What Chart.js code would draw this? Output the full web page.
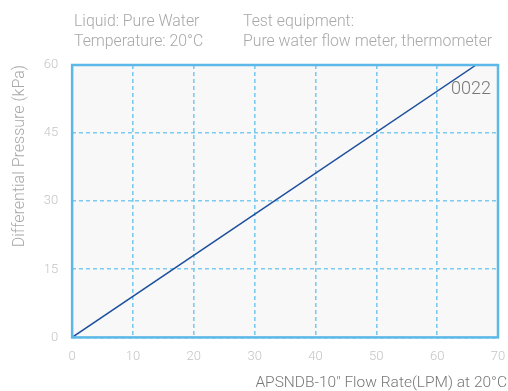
<!DOCTYPE html>
<html lang="en">
<head>
<meta charset="UTF-8">
<title>APSNDB-10 pressure drop</title>
<script src="https://cdn.jsdelivr.net/npm/chart.js"></script>
<style>
  html, body { margin: 0; padding: 0; background: #fff; }
  #wrap { width: 508px; height: 391px; position: relative; }
</style>
</head>
<body>
<div id="wrap"><canvas id="chart"></canvas></div>
<script>
    // values
    const flowRate = [0, 66.4];      // LPM
    const pressure = [0, 60];        // kPa
    const xTicks = [0, 10, 20, 30, 40, 50, 60, 70];
    const yTicks = [0, 15, 30, 45, 60];
    const seriesName = '0022';

    const FONT = 'Roboto, "Open Sans", sans-serif';

    const plotFrame = {
        id: 'plotFrame',
        beforeDraw(chart) {
            const { ctx, chartArea: a } = chart;
            ctx.save();
            ctx.fillStyle = '#f8f8f8';
            ctx.fillRect(a.left, a.top, a.right - a.left, a.bottom - a.top);
            ctx.restore();
        },
        afterDatasetsDraw(chart) {
            const { ctx, chartArea: a } = chart;
            ctx.save();
            ctx.strokeStyle = '#5cb8e6';
            ctx.lineWidth = 2.5;
            ctx.strokeRect(a.left, a.top, a.right - a.left, a.bottom - a.top);

            // header notes
            ctx.fillStyle = '#a8a8a8';
            ctx.font = '300 15.8px ' + FONT;
            ctx.textBaseline = 'alphabetic';
            ctx.fillText('Liquid: Pure Water', 74, 26);
            ctx.fillText('Temperature: 20°C', 74, 46);
            ctx.fillText('Test equipment:', 243, 26);
            ctx.fillText('Pure water flow meter, thermometer', 243, 46);

            // series label
            ctx.fillStyle = '#777';
            ctx.font = '300 18px ' + FONT;
            ctx.textAlign = 'right';
            ctx.fillText(seriesName, a.right - 7, 94);

            // x axis title
            ctx.fillStyle = '#777';
            ctx.font = '300 15.5px ' + FONT;
            ctx.fillText('APSNDB-10" Flow Rate(LPM) at 20°C', 507, 387);
            ctx.restore();
        }
    };

    const gridStyle = { color: '#7ccbef', lineWidth: 1.6, drawTicks: false };

    new Chart(document.getElementById('chart'), {
        type: 'scatter',
        data: {
            datasets: [{
                label: seriesName,
                data: flowRate.map((x, i) => ({ x, y: pressure[i] })),
                showLine: true,
                borderColor: '#1d4f9c',
                borderWidth: 1.5,
                pointRadius: 0
            }]
        },
        options: {
            responsive: true,
            maintainAspectRatio: false,
            animation: false,
            layout: { padding: { top: 65, right: 0, bottom: 14, left: 2 } },
            plugins: { legend: { display: false }, tooltip: { enabled: false } },
            scales: {
                x: {
                    type: 'linear',
                    min: 0, max: 70,
                    afterBuildTicks: s => { s.ticks = xTicks.map(v => ({ value: v })); },
                    afterFit: s => { s.paddingRight = 10; },
                    grid: gridStyle,
                    border: { display: false, dash: [4, 3] },
                    ticks: { color: '#c4c4c4', font: { family: FONT, size: 13, weight: 300 }, padding: 12 }
                },
                y: {
                    type: 'linear',
                    min: 0, max: 60,
                    afterBuildTicks: s => { s.ticks = yTicks.map(v => ({ value: v })); },
                    grid: gridStyle,
                    border: { display: false, dash: [4, 3] },
                    ticks: { color: '#c4c4c4', font: { family: FONT, size: 13, weight: 300 }, padding: 14 },
                    title: {
                        display: true,
                        align: 'end',
                        text: 'Differential Pressure (kPa)',
                        color: '#a8a8a8',
                        font: { family: FONT, size: 16, weight: 300 },
                        padding: { top: 8, bottom: 0.5 }
                    }
                }
            }
        },
        plugins: [plotFrame]
    });
</script>
</body>
</html>
